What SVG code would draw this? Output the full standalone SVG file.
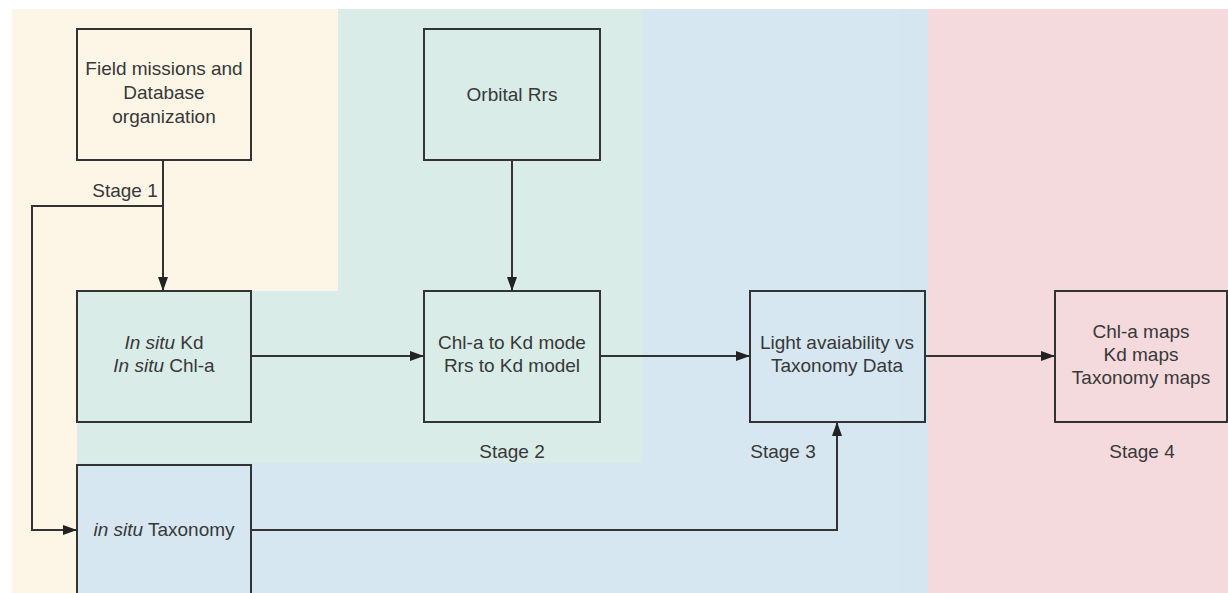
<svg xmlns="http://www.w3.org/2000/svg" width="1228" height="593" viewBox="0 0 1228 593">
<style>
.node rect{fill:none;stroke:#333;stroke-width:2}
text{font-family:"Liberation Sans",Arial,sans-serif;font-size:19px;fill:#383838;text-anchor:middle}
.it{font-style:italic}
.conn path{fill:none;stroke:#333;stroke-width:2}
</style>
<defs>
<marker id="arr" viewBox="0 0 14 10" refX="14" refY="5" markerWidth="14" markerHeight="10" markerUnits="userSpaceOnUse" orient="auto">
<path d="M0,0 L14,5 L0,10 z" fill="#222"/>
</marker>
</defs>
<rect x="0" y="0" width="1228" height="593" fill="#ffffff"/>
<g id="regions">
<path d="M12,9 H338 V291 H77 V593 H12 Z" fill="#fdf6e7"/>
<path d="M338,9 H643 V463 H77 V291 H338 Z" fill="#d9ece8"/>
<path d="M643,9 H928 V593 H77 V463 H643 Z" fill="#d6e7f2"/>
<rect x="900" y="9" width="28" height="584" fill="#d5e6f1"/>
<rect x="928" y="9" width="300" height="584" fill="#f5dadd"/>
</g>
<g id="labels">
<text x="125" y="197">Stage 1</text>
<text x="512" y="458">Stage 2</text>
<text x="783" y="458">Stage 3</text>
<text x="1142" y="458">Stage 4</text>
</g>
<g class="conn" id="connectors">
<path d="M163,160 V291" marker-end="url(#arr)"/>
<path d="M163,206 H32 V530 H77" marker-end="url(#arr)"/>
<path d="M512,160 V291" marker-end="url(#arr)"/>
<path d="M251,356 H424" marker-end="url(#arr)"/>
<path d="M600,356 H750" marker-end="url(#arr)"/>
<path d="M925,356 H1055" marker-end="url(#arr)"/>
<path d="M251,530 H837 V422" marker-end="url(#arr)"/>
</g>
<g class="node" id="field">
<rect x="77" y="29" width="174" height="131"/>
<text x="164" y="75">Field missions and</text>
<text x="164" y="99">Database</text>
<text x="164" y="123">organization</text>
</g>
<g class="node" id="orbital">
<rect x="424" y="29" width="176" height="131"/>
<text x="512" y="101">Orbital Rrs</text>
</g>
<g class="node" id="insitu">
<rect x="77" y="291" width="174" height="131"/>
<text x="164" y="349"><tspan class="it">In situ</tspan> Kd</text>
<text x="164" y="372"><tspan class="it">In situ</tspan> Chl-a</text>
</g>
<g class="node" id="models">
<rect x="424" y="291" width="176" height="131"/>
<text x="512" y="349">Chl-a to Kd mode</text>
<text x="512" y="372">Rrs to Kd model</text>
</g>
<g class="node" id="light">
<rect x="750" y="291" width="175" height="131"/>
<text x="837" y="349">Light avaiability vs</text>
<text x="837" y="372">Taxonomy Data</text>
</g>
<g class="node" id="maps">
<rect x="1055" y="291" width="172" height="131"/>
<text x="1141" y="338">Chl-a maps</text>
<text x="1141" y="361">Kd maps</text>
<text x="1141" y="384">Taxonomy maps</text>
</g>
<g class="node" id="taxonomy">
<rect x="77" y="465" width="174" height="140"/>
<text x="164" y="536"><tspan class="it">in situ</tspan> Taxonomy</text>
</g>
</svg>
